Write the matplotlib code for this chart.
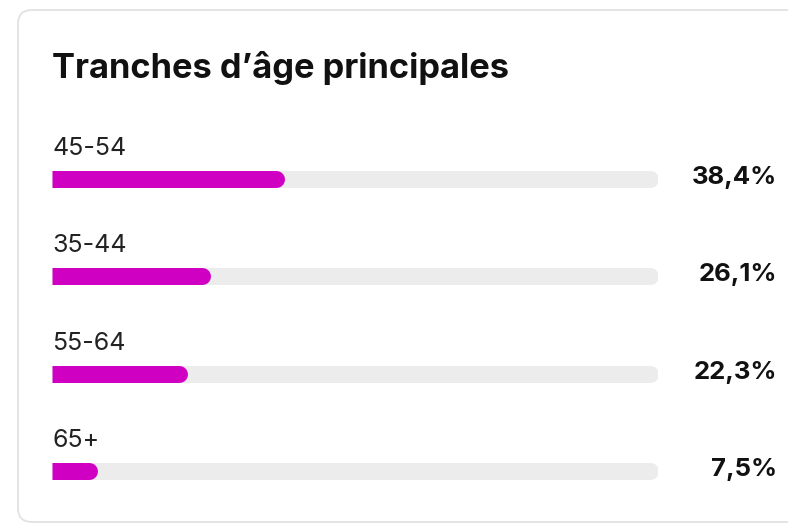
import matplotlib.pyplot as plt
from matplotlib.patches import FancyBboxPatch

plt.rcParams['font.family'] = ['Inter', 'DejaVu Sans']

title = "Tranches d\u2019âge principales"
age_groups = ["45-54", "35-44", "55-64", "65+"]
shares = [38.4, 26.1, 22.3, 7.5]
share_labels = ["38,4%", "26,1%", "22,3%", "7,5%"]

W, H = 788, 526
fig = plt.figure(figsize=(W / 100, H / 100), dpi=100)
fig.patch.set_facecolor("white")

# background card in pixel coordinates
bg = fig.add_axes([0, 0, 1, 1])
bg.set_xlim(0, W)
bg.set_ylim(H, 0)
bg.axis("off")
card = FancyBboxPatch((18, 10), 820, 512, boxstyle="round,pad=0,rounding_size=14",
                      fc="white", ec="#e2e2e2", lw=1.3)
bg.add_patch(card)
bg.text(52, 78, title, fontsize=24.8, fontweight="bold", color="#111111", va="baseline")

# bar area
x0, x1 = 52, 658
step = 97.3
top = 179 - step / 2
ax = fig.add_axes([x0 / W, 1 - (top + step * 4) / H, (x1 - x0) / W, step * 4 / H])
ax.set_xlim(0, 100)
ax.set_ylim(len(age_groups) - 0.5, -0.5)
ax.axis("off")

bar_px = 17
cap = (bar_px / 2) * 100 / (x1 - x0)   # radius of round end, in data units
lw_pt = bar_px * 72 / 100


def rounded_bar(y, v, color, z):
    # square start, round end
    ax.plot([0, v - cap], [y, y], color=color, lw=lw_pt, solid_capstyle="butt", zorder=z)
    ax.plot([(v - cap) / 2, v - cap], [y, y], color=color, lw=lw_pt,
            solid_capstyle="round", zorder=z)


for i, (g, v, lab) in enumerate(zip(age_groups, shares, share_labels)):
    rounded_bar(i, 100, "#ececec", 2)
    rounded_bar(i, v, "#d000c2", 3)
    ax.text(0, i - 24 / step, g, fontsize=18, color="#222222", va="baseline")
    ax.text(100 + (777 - x1) * 100 / (x1 - x0), i - 1.5 / step, lab, fontsize=18.5,
            fontweight="bold", color="#111111", ha="right", va="center", clip_on=False)

fig.savefig("out.png", dpi=100)
